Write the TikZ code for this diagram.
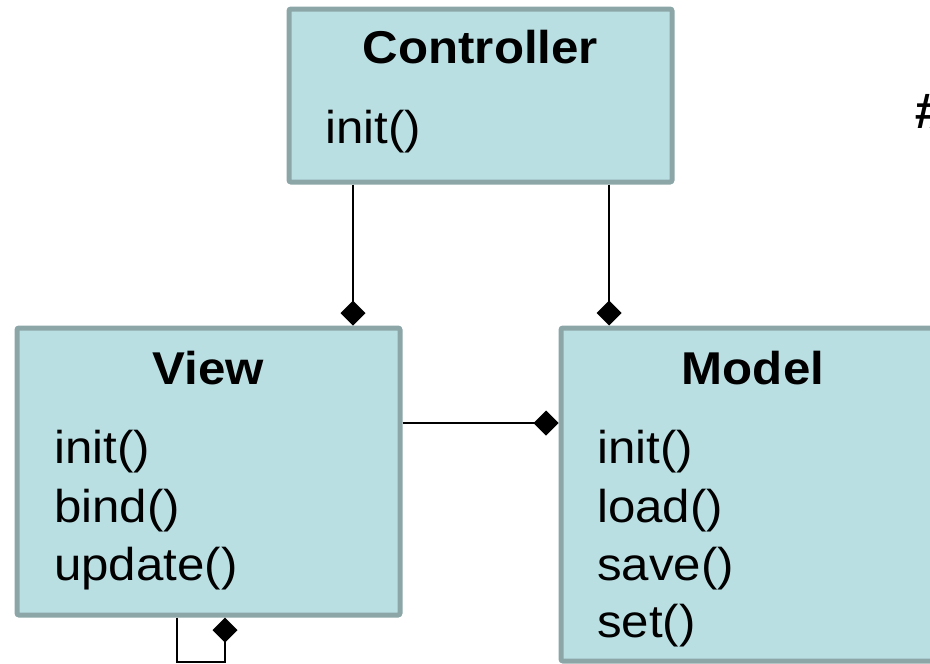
\documentclass[tikz,border=0pt]{standalone}
\usepackage{fontspec}
\setmainfont{Liberation Sans}[FakeStretch=1.07]
\usetikzlibrary{arrows.meta}
\definecolor{boxfill}{RGB}{186,223,227}
\definecolor{boxline}{RGB}{140,166,168}
\begin{document}
\begin{tikzpicture}[x=1pt,y=-1pt,
  box/.style={draw=boxline, fill=boxfill, line width=5pt, rounded corners=2pt, minimum width=383pt, inner sep=0pt},
  conn/.style={line width=2.8pt, line join=miter, -{Diamond[length=25pt,width=25pt]}},
  title/.style={font=\fontsize{46}{55}\selectfont\bfseries, anchor=base, inner sep=0pt},
  meth/.style={font=\fontsize{46}{55}\selectfont, anchor=base west, inner sep=0pt}]
\useasboundingbox (0,0) rectangle (930,664);
% boxes
\node[box, minimum height=173pt] (ctrl) at (480.5,95.5) {};
\node[box, minimum height=287pt] (view) at (208.5,471.5) {};
\node[box, minimum height=333pt] (model) at (752.5,494.5) {};
% titles
\node[title] (ctrlT) at (480.5,63) {Controller};
\node[title] (viewT) at (208.5,384) {View};
\node[title] (modelT) at (753,384) {Model};
% methods
\node[meth] (c1) at (325,143) {init()};
\node[meth] (v1) at (54,463) {init()};
\node[meth] (v2) at (54,522) {bind()};
\node[meth] (v3) at (54,580) {update()};
\node[meth] (m1) at (597,463) {init()};
\node[meth] (m2) at (597,522) {load()};
\node[meth] (m3) at (597,580) {save()};
\node[meth] (m4) at (597,637) {set()};
% clipped text at right
\node[font=\fontsize{50}{60}\selectfont\bfseries\itshape, anchor=base west, inner sep=0pt] (hash) at (914,128) {\#};
% connector columns
\coordinate (xa) at (353,0);
\coordinate (xb) at (609,0);
\coordinate (yh) at (0,423);
\coordinate (loopL) at (177,662);
\coordinate (loopR) at (225,662);
% connectors
\draw[conn] (ctrl.south -| xa) -- (view.north -| xa);
\draw[conn] (ctrl.south -| xb) -- (model.north -| xb);
\draw[conn] (view.east |- yh) -- (model.west |- yh);
\draw[conn] (view.south -| loopL) -- (loopL) -- (loopR) -- (view.south -| loopR);
\end{tikzpicture}
\end{document}
